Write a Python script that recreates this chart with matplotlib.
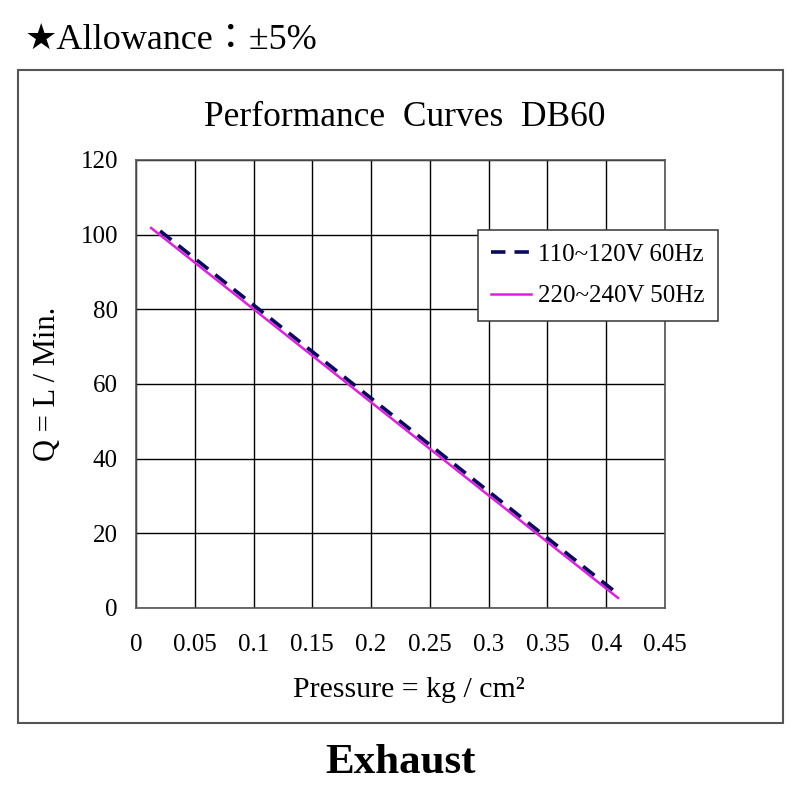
import matplotlib.pyplot as plt
from matplotlib.patches import Rectangle

plt.rcParams['font.family'] = ['Liberation Serif', 'DejaVu Sans', 'Noto Sans CJK JP']

# data
pressure_60hz = [0.0205, 0.4066]
flow_60hz = [101.0, 4.6]
pressure_50hz = [0.0128, 0.410]
flow_50hz = [101.8, 2.7]
labels = ["110~120V 60Hz", "220~240V 50Hz"]
x_ticks = [0, 0.05, 0.1, 0.15, 0.2, 0.25, 0.3, 0.35, 0.4, 0.45]
x_tick_labels = ["0", "0.05", "0.1", "0.15", "0.2", "0.25", "0.3", "0.35", "0.4", "0.45"]
y_ticks = [0, 20, 40, 60, 80, 100, 120]

fig = plt.figure(figsize=(8, 8), dpi=100)

# outer frame
fig.patches.append(Rectangle((18 / 800, 1 - 723 / 800), (783 - 18) / 800, (723 - 70) / 800,
                             transform=fig.transFigure, fill=False, edgecolor='#555555', lw=1.5))

ax = fig.add_axes([136 / 800, 1 - 608 / 800, (665 - 136) / 800, (608 - 160) / 800])
ax.plot(pressure_60hz, flow_60hz, color='#0a0a60', lw=2.6, dashes=(4, 2.5), label=labels[0], zorder=3)
ax.plot(pressure_50hz, flow_50hz, color='#e020e0', lw=1.8, label=labels[1], zorder=2)

ax.set_xlim(0, 0.45)
ax.set_ylim(0, 120)
ax.set_xticks(x_ticks)
ax.set_xticklabels(x_tick_labels)
ax.set_yticks(y_ticks)
ax.tick_params(length=0, labelsize=18)
ax.tick_params(axis='x', pad=19)
ax.tick_params(axis='y', pad=13)
ax.grid(True, color='black', lw=1)
for s in ax.spines.values():
    s.set_color('#555555')
    s.set_linewidth(1.2)

ax.set_xlabel("Pressure = kg / cm²", fontsize=21.5, labelpad=14)
ax.xaxis.set_label_coords(0.515, -0.155)
ax.set_ylabel("Q = L / Min.", fontsize=22, labelpad=13)

leg = ax.legend(loc='upper right', bbox_to_anchor=(1.1, 0.844), borderaxespad=0, fontsize=18,
                frameon=True, fancybox=False, framealpha=1, edgecolor='#444444', borderpad=0.55,
                labelspacing=0.75, handlelength=1.6, handletextpad=0.25)
leg.get_frame().set_linewidth(1.2)

fig.text(0.506, 1 - 117 / 800, "Performance  Curves  DB60", ha='center', va='center', fontsize=25.5)
fig.text(25 / 800, 1 - 40 / 800, "★Allowance：±5%", ha='left', va='center', fontsize=26)
fig.text(0.5, 1 - 763 / 800, "Exhaust", ha='center', va='center', fontsize=31, fontweight='bold')

fig.savefig("out.png", dpi=100, facecolor='white')
